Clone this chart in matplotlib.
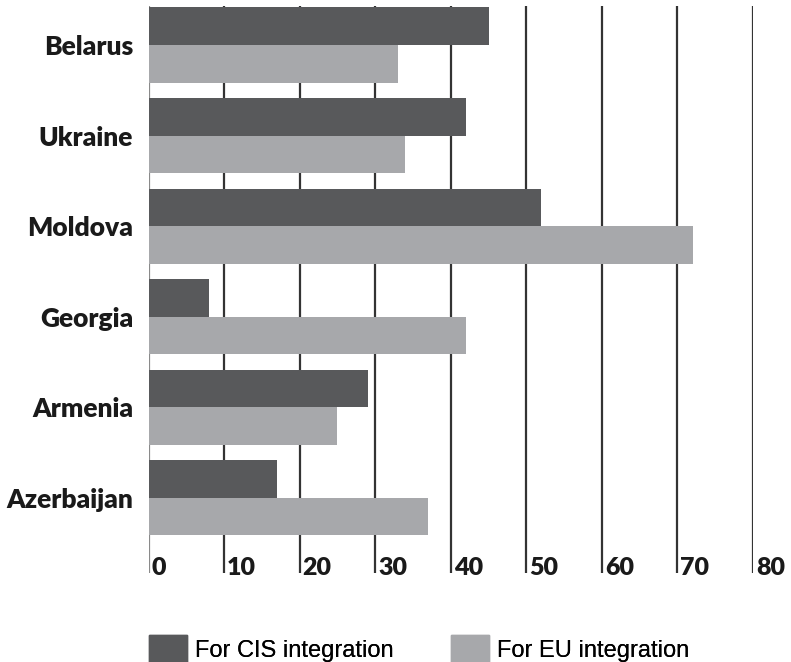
import matplotlib
matplotlib.use("Agg")
from matplotlib import pyplot as plt
from matplotlib.patches import Patch

countries = ["Belarus", "Ukraine", "Moldova", "Georgia", "Armenia", "Azerbaijan"]
cis = [45, 42, 52, 8, 29, 17]
eu = [33, 34, 72, 42, 25, 37]
ticks = [0, 10, 20, 30, 40, 50, 60, 70, 80]
series_names = ["For CIS integration", "For EU integration"]

dark = "#58595b"
light = "#a7a8ab"
bold_font = "Lato"
plain_font = "Liberation Sans"

W, H = 791, 662
fig = plt.figure(figsize=(W / 100, H / 100), dpi=100)
# axes placed in pixel terms: x 148.5..753, y 6..573 from top
ax = fig.add_axes([148.5 / W, 1 - 573 / H, (753 - 148.5) / W, (573 - 6) / H])

pos = list(range(len(countries)))
bh = 0.415
ax.barh([p - bh / 2 for p in pos], cis, height=bh, color=dark, zorder=3)
ax.barh([p + bh / 2 for p in pos], eu, height=bh, color=light, zorder=3)

ax.set_xlim(0, 80)
ax.set_ylim(5.83, -0.43)

for t in ticks:
    c = "#8a8a8a" if t == 0 else "#333333"
    ax.axvline(t, color=c, lw=1.6, zorder=1)
    ax.text(t + 0.4, 5.78, str(t), fontsize=18, fontweight="heavy",
            family=bold_font, color="#1a1a1a", va="center", ha="left", zorder=4)

ax.set_xticks([])
ax.set_yticks(pos)
ax.set_yticklabels(countries, fontsize=19, fontweight="heavy", family=bold_font,
                   color="#1a1a1a")
ax.tick_params(axis="y", length=0, pad=11)
for s in ax.spines.values():
    s.set_visible(False)

# two single-entry legends so each square sits where the reference has it
fs = 17
px = fs * 100 / 72
for name, col, x0 in [(series_names[0], dark, 149), (series_names[1], light, 451)]:
    leg = fig.legend(handles=[Patch(color=col, label=name)], loc="lower left",
                     bbox_to_anchor=(x0 / W, 0), frameon=False,
                     prop={"family": plain_font, "size": fs},
                     handlelength=38 / px, handleheight=32 / px,
                     handletextpad=8 / px, borderaxespad=0, borderpad=0)
    fig.add_artist(leg)

fig.savefig("out.png", dpi=100)
